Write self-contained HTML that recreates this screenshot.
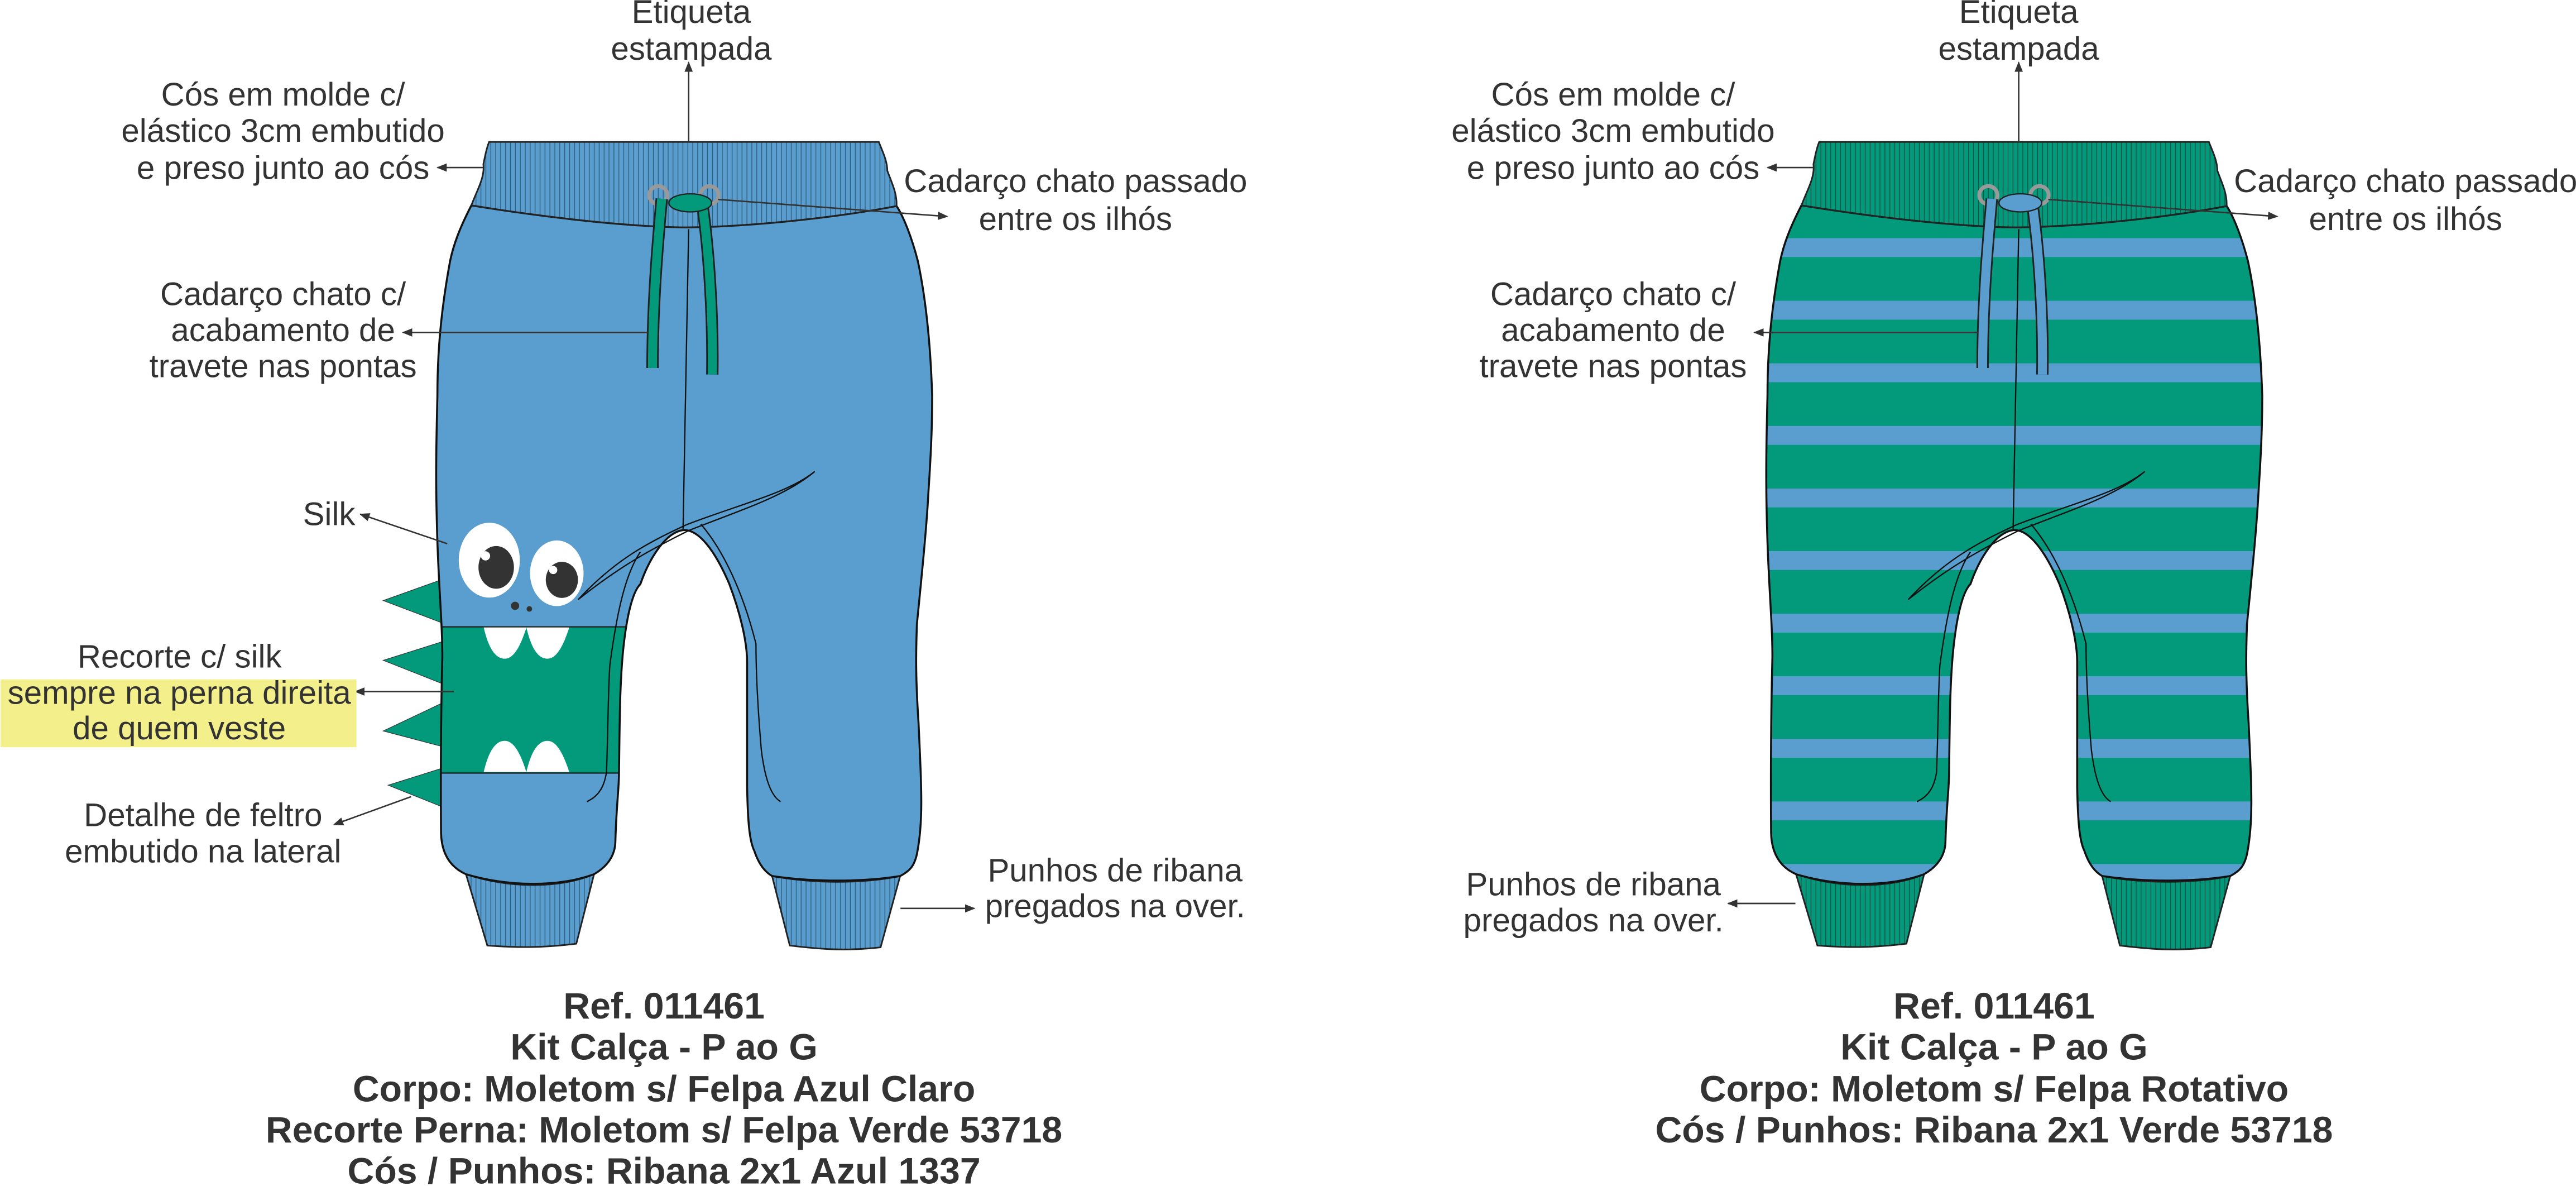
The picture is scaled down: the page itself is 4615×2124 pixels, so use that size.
<!DOCTYPE html>
<html><head><meta charset="utf-8"><style>html,body{margin:0;padding:0;background:#fff}svg{display:block}</style></head>
<body>
<svg xmlns="http://www.w3.org/2000/svg" width="4615" height="2124" viewBox="0 0 1568 722">
<defs>
<pattern id="ribB" width="3" height="10" patternUnits="userSpaceOnUse"><rect width="3" height="10" fill="#5a9ecf"/><line x1="1.5" y1="0" x2="1.5" y2="10" stroke="#2d5a7a" stroke-width="0.45"/></pattern>
<pattern id="ribG" width="3" height="10" patternUnits="userSpaceOnUse"><rect width="3" height="10" fill="#039a7c"/><line x1="1.5" y1="0" x2="1.5" y2="10" stroke="#1d4a40" stroke-width="0.45"/></pattern>
<pattern id="stripes" width="40" height="38.1" patternUnits="userSpaceOnUse" y="145"><rect width="40" height="38.1" fill="#039a7c"/><rect width="40" height="11.5" fill="#5a9ecf"/></pattern>
<marker id="ah" viewBox="0 0 10 10" refX="9" refY="5" markerWidth="7" markerHeight="7" orient="auto-start-reverse"><path d="M0,1 L10,5 L0,9 Z" fill="#333"/></marker>
<path id="body" d="M286.7,125 C280,138 276,148 273.7,159 C268,190 266,215 266,241 C265,280 265,300 266,330 C267,360 269,380 269,400 C268,440 268,480 268.2,507 C268.5,520 274,528 283.4,532.2 C310,540 340,540 361.4,532.2 C372,526 374.4,518 374.4,511.7 C375,490 376.6,480 376.6,470 C377,440 377,420 378.8,399 C381,375 385,360 389.6,355.6 C395,340 405,324 415.6,322.7 C425,322 435,335 443.8,355.6 C450,372 454.6,390 454.6,403 C454.6,430 454.6,460 454.6,479 C455,500 456,512 459,518 C462,527 466,531 469.8,533.3 C495,537 525,537 547.8,533.3 C554,530 556.4,527 558,520 C562,500 560.8,480 559,440 C557,410 557.5,395 558,380 C561,350 564,320 565,300 C567,270 567.3,255 567.3,241 C566,200 562,175 558.6,159 C555,145 550,132 545.6,125.4 C500,134 450,138 417.8,138.4 C380,138 330,132 286.7,125 Z"/>
<path id="waist" d="M297.5,86.4 L534.8,86.4 C537,92 540,98 540,104 C543,112 546,118 545.6,125.4 C500,134 450,138 417.8,138.4 C380,138 330,132 286.7,125 C290,116 295,108 294,100 C295,95 296,90 297.5,86.4 Z"/>
<path id="cuffL" d="M283.4,532.2 C310,541 340,541 361.4,532.2 L350.6,574.5 C330,577 315,577 296.4,575.6 Z"/>
<path id="cuffR" d="M469.8,533.3 C495,538 525,538 547.8,533.3 L535.9,576.7 C515,579 500,578 480.6,575.6 Z"/>
<path id="pk" d="M357,488 C366,484 368,476 369,470 C370,440 370,420 371,405 C375,375 380,350 389.6,336 M475,488 C468,484 465,470 463.3,457 C461,430 460,410 460,392 C452,360 440,335 426.4,319 M351.7,365 C375,340 395,330 417.8,319.4 C450,307 480,300 495.8,287 C478,302 452,310 419,323 C397,334 378,344 351.7,365 M419,139.5 L415.6,322"/>
<clipPath id="clipL"><use href="#body"/></clipPath>
</defs>

<!-- LEFT PANTS -->
<use href="#cuffL" fill="url(#ribB)" stroke="#222" stroke-width="1"/>
<use href="#cuffR" fill="url(#ribB)" stroke="#222" stroke-width="1"/>
<polygon points="271,352 233,365.6 271,380" fill="#039a7c" stroke="#333" stroke-width="0.4"/>
<polygon points="271,390 233,402 271,417" fill="#039a7c" stroke="#333" stroke-width="0.4"/>
<polygon points="271,427 233,445 271,455" fill="#039a7c" stroke="#333" stroke-width="0.4"/>
<polygon points="271,467 236,478 271,492" fill="#039a7c" stroke="#333" stroke-width="0.4"/>
<use href="#body" fill="#5a9ecf"/>
<g clip-path="url(#clipL)">
<rect x="255" y="381.6" width="135" height="89" fill="#039a7c" stroke="#222" stroke-width="0.8"/>
<path d="M294.2,382 C297,394 301,401 307,401 C313,401 317,392 320.2,382 Z M320.2,382 C323,394 327,401 333,401 C339,401 343,392 346.3,382 Z" fill="#fff"/>
<path d="M294.2,470 C297,458 301,451 307,451 C313,451 317,460 320.2,470 Z M320.2,470 C323,458 327,451 333,451 C339,451 343,460 346.3,470 Z" fill="#fff"/>
</g>
<use href="#body" fill="none" stroke="#111" stroke-width="1.2"/>
<ellipse cx="297.6" cy="341" rx="18.6" ry="22.8" fill="#fff"/>
<ellipse cx="301.8" cy="345.4" rx="10.8" ry="13" fill="#333"/><circle cx="295.3" cy="338.4" r="2.8" fill="#fff"/>
<ellipse cx="338.7" cy="349" rx="16.3" ry="20" fill="#fff"/>
<ellipse cx="341.8" cy="353" rx="9.8" ry="11" fill="#333"/><circle cx="336.5" cy="347" r="2.5" fill="#fff"/>
<circle cx="313.3" cy="368.8" r="2.5" fill="#333"/><circle cx="322" cy="370.7" r="1.7" fill="#333"/>
<use href="#pk" fill="none" stroke="#111" stroke-width="0.8"/>
<use href="#waist" fill="url(#ribB)" stroke="#222" stroke-width="1"/>
<circle cx="400.5" cy="118.8" r="5.5" fill="none" stroke="#999" stroke-width="2.4"/>
<circle cx="431.7" cy="118.8" r="5.5" fill="none" stroke="#999" stroke-width="2.4"/>
<path d="M402.6,121 C400,150 397,185 397,224 M427.4,125 C431,150 434,190 433.4,228" stroke="#222" stroke-width="7.5" fill="none"/>
<path d="M402.6,121 C400,150 397,185 397,224 M427.4,125 C431,150 434,190 433.4,228" stroke="#039a7c" stroke-width="5.5" fill="none"/>
<ellipse cx="420" cy="123.5" rx="13" ry="5.5" fill="#039a7c" stroke="#222" stroke-width="0.8"/>

<!-- RIGHT PANTS -->
<g transform="translate(810,0)">
<use href="#cuffL" fill="url(#ribG)" stroke="#222" stroke-width="1"/>
<use href="#cuffR" fill="url(#ribG)" stroke="#222" stroke-width="1"/>
<use href="#body" fill="url(#stripes)" stroke="#111" stroke-width="1.2"/>
<use href="#pk" fill="none" stroke="#111" stroke-width="0.8"/>
<use href="#waist" fill="url(#ribG)" stroke="#222" stroke-width="1"/>
<circle cx="400.5" cy="118.8" r="5.5" fill="none" stroke="#999" stroke-width="2.4"/>
<circle cx="431.7" cy="118.8" r="5.5" fill="none" stroke="#999" stroke-width="2.4"/>
<path d="M402.6,121 C400,150 397,185 397,224 M427.4,125 C431,150 434,190 433.4,228" stroke="#222" stroke-width="7.5" fill="none"/>
<path d="M402.6,121 C400,150 397,185 397,224 M427.4,125 C431,150 434,190 433.4,228" stroke="#5a9ecf" stroke-width="5.5" fill="none"/>
<ellipse cx="420" cy="123.5" rx="13" ry="5.5" fill="#5a9ecf" stroke="#222" stroke-width="0.8"/>
</g>

<!-- ARROWS -->
<g stroke="#333" stroke-width="0.9" fill="none" marker-end="url(#ah)">
<line x1="419" y1="86.7" x2="419" y2="38"/>
<line x1="294" y1="102" x2="266" y2="102"/>
<line x1="437" y1="121.4" x2="576.5" y2="131.8"/>
<line x1="394" y1="202.4" x2="245" y2="202.4"/>
<line x1="272" y1="331" x2="219" y2="313"/>
<line x1="276" y1="421" x2="216" y2="421"/>
<line x1="250" y1="485" x2="203" y2="502"/>
<line x1="548" y1="553" x2="593" y2="553"/>
<line x1="1229" y1="86.7" x2="1229" y2="38"/>
<line x1="1104" y1="102" x2="1076" y2="102"/>
<line x1="1247" y1="121.4" x2="1386.5" y2="131.8"/>
<line x1="1204" y1="202.4" x2="1068" y2="202.4"/>
<line x1="1093" y1="550" x2="1052" y2="550"/>
</g>

<rect x="0" y="413.6" width="216.7" height="41.3" fill="#f3ef8a"/>

<g font-family="Liberation Sans, sans-serif" font-size="19.8" fill="#333" text-anchor="middle">
<text x="420.6" y="14">Etiqueta</text><text x="420.6" y="36.4">estampada</text>
<text x="1229" y="14">Etiqueta</text><text x="1229" y="36.4">estampada</text>
<text x="172" y="185.7">Cadarço chato c/</text><text x="172" y="207.7">acabamento de</text><text x="172" y="229.7">travete nas pontas</text>
<text x="982" y="185.7">Cadarço chato c/</text><text x="982" y="207.7">acabamento de</text><text x="982" y="229.7">travete nas pontas</text>
<text x="109" y="406.4">Recorte c/ silk</text>
<text x="108.8" y="428.4">sempre na perna direita</text>
<text x="108.8" y="450">de quem veste</text>
<text x="123.3" y="503">Detalhe de feltro</text><text x="123.3" y="525">embutido na lateral</text>
<text x="678.7" y="536.6">Punhos de ribana</text><text x="678.7" y="558.4">pregados na over.</text>
<text x="970" y="545">Punhos de ribana</text><text x="970" y="567">pregados na over.</text>
<text x="654.6" y="117">Cadarço chato passado</text><text x="654.6" y="140">entre os ilhós</text>
<text x="1464.6" y="117">Cadarço chato passado</text><text x="1464.6" y="140">entre os ilhós</text>
<text x="172" y="64.3">Cós em molde c/</text><text x="172" y="86.3">elástico 3cm embutido</text><text x="172" y="109">e preso junto ao cós</text>
<text x="982" y="64.3">Cós em molde c/</text><text x="982" y="86.3">elástico 3cm embutido</text><text x="982" y="109">e preso junto ao cós</text>
<text x="216" y="319.7" text-anchor="end">Silk</text>
</g>

<g font-family="Liberation Sans, sans-serif" font-size="22.5" font-weight="bold" fill="#333" text-anchor="middle">
<text x="404" y="620">Ref. 011461</text>
<text x="404" y="645">Kit Calça - P ao G</text>
<text x="404" y="670.5">Corpo: Moletom s/ Felpa Azul Claro</text>
<text x="404" y="695.5">Recorte Perna: Moletom s/ Felpa Verde 53718</text>
<text x="404" y="720.5">Cós / Punhos: Ribana 2x1 Azul 1337</text>
<text x="1214" y="620">Ref. 011461</text>
<text x="1214" y="645">Kit Calça - P ao G</text>
<text x="1214" y="670.5">Corpo: Moletom s/ Felpa Rotativo</text>
<text x="1214" y="695.5">Cós / Punhos: Ribana 2x1 Verde 53718</text>
</g>
</svg>
</body></html>
